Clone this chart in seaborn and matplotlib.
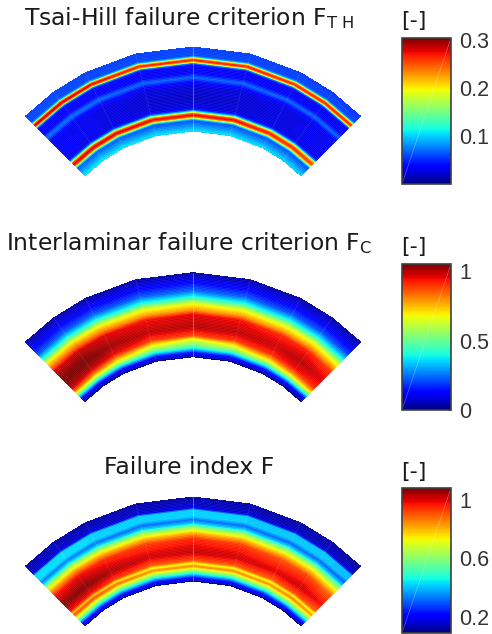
import numpy as np
import matplotlib
matplotlib.use("Agg")
import matplotlib.pyplot as plt
from matplotlib.cm import ScalarMappable
from matplotlib.colors import Normalize
import seaborn as sns

sns.set_theme(style="white")
plt.rcParams["font.family"] = ["DejaVu Sans"]
plt.rcParams["mathtext.fontset"] = "dejavusans"

# --- data ---
theta_deg = [-45, -36, -27, -14, 0, 14, 27, 36, 45]      # wedge stations
r_inner, r_outer = 153, 237

titles = ["Tsai-Hill failure criterion F$_{\\mathrm{T\\ H}}$",
          "Interlaminar failure criterion F$_{\\mathrm{C}}$",
          "Failure index F"]
units = "[-]"

th_frac = [0, .05, .10, .13, .15, .17, .19, .21, .23, .25, .28, .40, .55, .60, .64, .68, .75, .795, .815, .825, .845, .865, .875, .895, .92, 1]
th_center = [.105, .085, .068, .058, .11, .23, .275, .23, .11, .05, .025, .018, .024, .04, .065, .04, .03, .035, .09, .20, .265, .20, .10, .06, .058, .055]
th_end = [.105, .085, .068, .058, .11, .23, .27, .23, .11, .05, .03, .035, .03, .04, .068, .04, .03, .035, .09, .21, .275, .21, .10, .06, .058, .055]
th_mix = [1, .8, .5, .2, 0, .2, .5, .8, 1]
th_gain = [1.03, 1.03, 1.02, 1.0, 1.0, 1.0, .98, .97, .95]

fc_frac = [0, .06, .10, .14, .18, .22, .26, .36, .50, .55, .635, .70, .78, .87, 1]
fc_center = [.02, .15, .35, .50, .58, .68, .88, 1.0, .96, .80, .65, .42, .24, .14, .03]
fc_end = [.02, .12, .38, .62, .82, .95, 1.0, 1.04, .96, .84, .66, .42, .22, .12, .03]
fc_mix = [1, .8, .6, .3, 0, .3, .6, .8, 1]
fc_gain = [1.02, 1.03, 1.0, .98, 1.0, .98, .96, .97, .93]

fi_frac = [0, .05, .09, .13, .155, .18, .21, .25, .35, .50, .57, .64, .68, .73, .78, .84, .845, .87, 1]
fi_center = [.12, .22, .42, .60, .70, .84, .68, .90, 1.02, .95, .80, .60, .42, .30, .42, .42, .38, .17, .12]
fi_end = [.12, .22, .45, .66, .74, .88, .72, .95, 1.05, .95, .80, .62, .44, .30, .42, .42, .36, .16, .12]
fi_mix = [1, .8, .6, .3, 0, .3, .6, .8, 1]
fi_gain = [1.02, 1.03, 1.0, .98, 1.0, .98, .96, .97, .93]

panels = [(th_frac, th_center, th_end, th_mix, th_gain),
          (fc_frac, fc_center, fc_end, fc_mix, fc_gain),
          (fi_frac, fi_center, fi_end, fi_mix, fi_gain)]
ranges = [(0.0, 0.304), (0.0, 1.053), (0.088, 1.08)]
tick_sets = [[.1, .2, .3], [0, .5, 1], [.2, .4, .6, .8, 1]]
tick_labels = [["0.1", "0.2", "0.3"], ["0", "0.5", "1"], ["0.2", "", "0.6", "", "1"]]

# --- layout in pixels ---
W, H = 492, 634
cx = 193
apex_y = [47, 272.7, 497]
title_y = [18, 243, 467]
unit_y = [21, 247, 472]
bar_y = [(38, 184), (264, 410), (488, 633)]
bar_x = (402, 451)

fig = plt.figure(figsize=(W / 100, H / 100), dpi=100, facecolor="white")
cmap = plt.get_cmap("jet")


def rect(x0, y0, x1, y1):
    return [x0 / W, 1 - y1 / H, (x1 - x0) / W, (y1 - y0) / H]


for i, (frac, center, end, mix, gain) in enumerate(panels):
    vmin, vmax = ranges[i]
    frac, center, end = map(np.asarray, (frac, center, end))
    th = np.radians(theta_deg)
    rad = r_inner + frac * (r_outer - r_inner)
    R, T = np.meshgrid(rad, th, indexing="ij")
    X, Y = R * np.sin(T), R * np.cos(T)
    C = np.outer(center, 1 - np.asarray(mix)) + np.outer(end, mix)
    C = C * np.asarray(gain)

    ax = fig.add_axes(rect(cx - 175, apex_y[i] - 3, cx + 175, apex_y[i] + 135))
    ax.set_xlim(-175, 175)
    ax.set_ylim(r_outer - 135, r_outer + 3)
    ax.axis("off")
    ax.contourf(X, Y, C, levels=np.linspace(vmin, vmax, 96), cmap=cmap,
                norm=Normalize(vmin, vmax), extend="both")

    # fine striation of the rendered surface
    for r in np.arange(r_inner + 1.0, r_outer, 1.43):
        ax.plot(r * np.sin(th), r * np.cos(th), color="white", lw=0.35,
                alpha=0.13, solid_capstyle="butt")
    for j in range(len(theta_deg)):
        central = theta_deg[j] == 0
        ax.plot(X[:, j], Y[:, j], color="white", lw=0.6, alpha=0.4 if central else 0.1)

    fig.text(189.5 / W, 1 - title_y[i] / H, titles[i], ha="center", va="center",
             fontsize=16.9, color="#1a1a1a")
    fig.text(414 / W, 1 - unit_y[i] / H, units, ha="center", va="center",
             fontsize=16, color="#1a1a1a")

    cax = fig.add_axes(rect(bar_x[0], bar_y[i][0], bar_x[1], bar_y[i][1]))
    cb = fig.colorbar(ScalarMappable(Normalize(vmin, vmax), cmap), cax=cax)
    cb.set_ticks(tick_sets[i], labels=tick_labels[i])
    cb.ax.tick_params(direction="in", length=2, width=0.6, color="#333333",
                      labelsize=15.5, labelcolor="#333333", pad=6, right=True)
    for lab in cb.ax.get_yticklabels():
        lab.set_fontfamily("Liberation Sans")
    cb.outline.set_edgecolor("#404040")
    cb.outline.set_linewidth(1.2)
    cax.plot([0, 1], [0, 1], transform=cax.transAxes, color="white", lw=0.5, alpha=0.35)

fig.savefig("out.png", dpi=100)
